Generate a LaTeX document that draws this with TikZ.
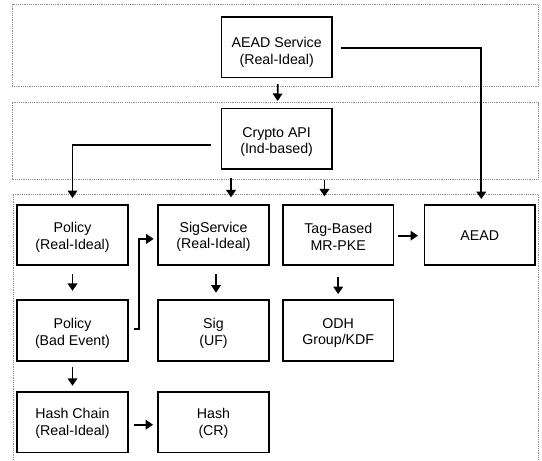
\documentclass[tikz,border=0pt]{standalone}
\usepackage{fontspec}
\setmainfont{Liberation Sans}
\usetikzlibrary{arrows.meta,calc}
\begin{document}
\begin{tikzpicture}[x=1pt,y=-1pt,
  box/.style={draw=black,line width=1.7pt,minimum width=110.5pt,minimum height=60.5pt,inner sep=0pt},
  txt/.style={align=center,font=\fontsize{14.2}{16.5}\selectfont,inner sep=0pt},
  region/.style={draw=black!45,line width=0.7pt,dash pattern=on 1.2pt off 1pt},
  arr/.style={line width=1.8pt,-{Triangle[length=7.5pt,width=9.5pt]}}]
\useasboundingbox (0,0) rectangle (542,461);
% regions
\draw[region] (12.3,4) rectangle (538.7,86);
\draw[region] (12.3,102.7) rectangle (538.7,179.7);
\draw[region] (13.3,194.7) rectangle (538.7,475);
% boxes
\node[box] (aeads) at (276.7,47.3) {};
\node[box] (crypto) at (276.6,138.7) {};
\node[box] (pol1) at (72.5,234.9) {};
\node[box] (sigserv) at (213.5,234.9) {};
\node[box] (tag) at (338.2,234.9) {};
\node[box] (aead) at (479.7,234.9) {};
\node[box] (pol2) at (72.5,330.5) {};
\node[box] (sig) at (213.5,330.5) {};
\node[box] (odh) at (338.2,330.5) {};
\node[box] (hc) at (72.5,422.2) {};
\node[box] (hash) at (213.5,422.2) {};
% texts
\node[txt] (aeads-t) at ($(aeads)+(0,5.2)$) {AEAD Service\\(Real-Ideal)};
\node[txt] (crypto-t) at ($(crypto)+(0,3.2)$) {Crypto API\\(Ind-based)};
\node[txt] (pol1-t) at ($(pol1)+(0,2.4)$) {Policy\\(Real-Ideal)};
\node[txt] (sigserv-t) at ($(sigserv)+(0,2.1)$) {SigService\\(Real-Ideal)};
\node[txt] (tag-t) at ($(tag)+(0,1.8)$) {Tag-Based\\MR-PKE};
\node[txt] (aead-t) at ($(aead)+(0,1.1)$) {AEAD};
\node[txt] (pol2-t) at ($(pol2)+(0,3)$) {Policy\\(Bad Event)};
\node[txt] (sig-t) at ($(sig)+(0,3)$) {Sig\\(UF)};
\node[txt] (odh-t) at ($(odh)+(0,2.6)$) {ODH\\Group/KDF};
\node[txt] (hc-t) at ($(hc)+(0,1.1)$) {Hash Chain\\(Real-Ideal)};
\node[txt] (hash-t) at ($(hash)+(0,1.1)$) {Hash\\(CR)};
% connectors
\draw[arr,shorten <=5.7pt,shorten >=6.6pt] ($(aeads.south)+(1,0)$) -- ($(crypto.north)+(1,0)$);
\draw[arr,shorten <=8.3pt,shorten >=4.7pt] ($(aeads.east)+(0,1)$) -| ($(aead.north)+(1.6,0)$);
\draw[arr,shorten <=9.3pt,shorten >=5.7pt] ($(crypto.west)+(0,6.3)$) -| (pol1.north);
\coordinate (c2) at ($(crypto.south west)+(10.5,0)$);
\coordinate (c3) at ($(crypto.south east)+(-8.2,0)$);
\draw[arr,shorten <=8.3pt,shorten >=6.4pt] (c2) -- (c2 |- sigserv.north);
\draw[arr,shorten <=10pt,shorten >=7.4pt] (c3) -- (c3 |- tag.north);
\draw[arr,shorten <=3.3pt,shorten >=5.6pt] ($(tag.east)+(0,0.8)$) -- ($(aead.west)+(0,0.8)$);
\draw[arr,shorten <=8pt,shorten >=8.5pt] (pol1.south) -- (pol2.north);
\draw[arr,shorten <=8.3pt,shorten >=6.7pt] ($(sigserv.south)+(2.5,0)$) -- ($(sig.north)+(2.5,0)$);
\draw[arr,shorten <=10.7pt,shorten >=5.3pt] (tag.south) -- (odh.north);
\draw[arr,shorten <=5.6pt,shorten >=3.7pt] ($(pol2.east)+(0,-1.8)$) -- ++(10.6,0) |- ($(sigserv.west)+(0,4)$);
\draw[arr,shorten <=5.3pt,shorten >=5.3pt] (pol2.south) -- (hc.north);
\draw[arr,shorten <=5pt,shorten >=4.3pt] ($(hc.east)+(0,2.5)$) -- ($(hash.west)+(0,2.5)$);
\end{tikzpicture}
\end{document}
